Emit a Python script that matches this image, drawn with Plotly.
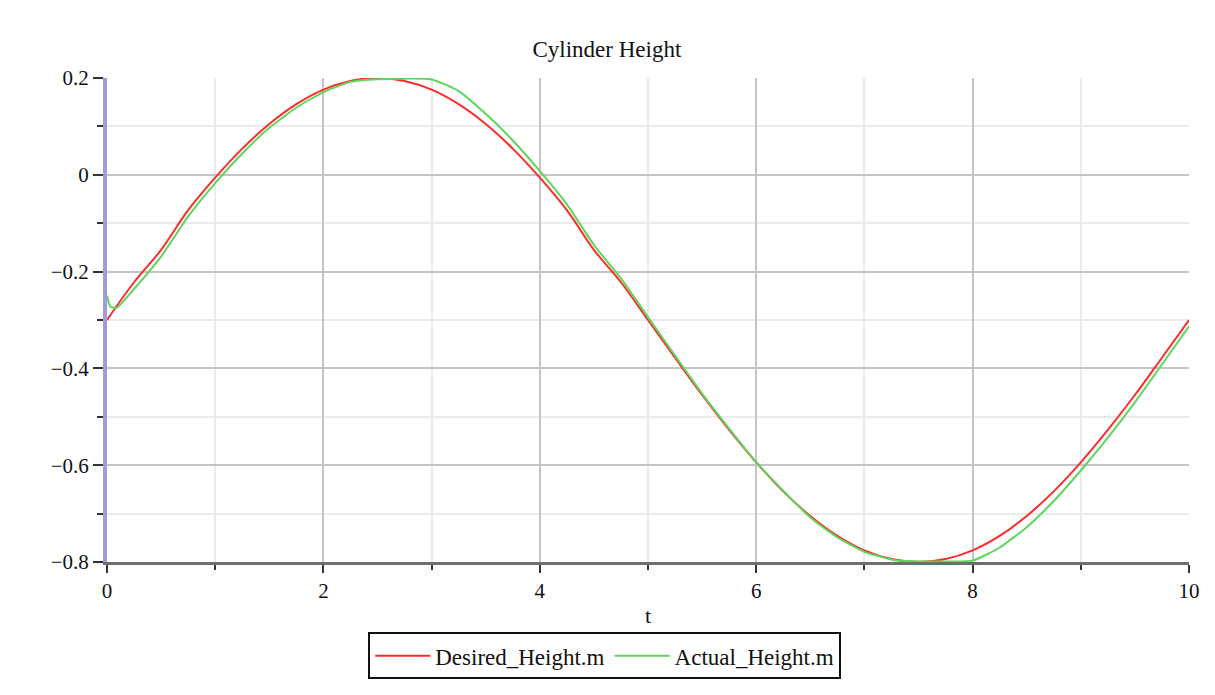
import plotly.graph_objects as go

# Desired height sampled every 0.25 s
t_desired = [i * 0.25 for i in range(41)]
desired = [-0.300, -0.222, -0.155, -0.073, -0.006, 0.054, 0.105, 0.146, 0.176, 0.194,
           0.200, 0.194, 0.176, 0.146, 0.105, 0.054, -0.006, -0.073, -0.155, -0.222,
           -0.300, -0.378, -0.455, -0.527, -0.594, -0.654, -0.705, -0.746, -0.776, -0.794,
           -0.800, -0.794, -0.776, -0.746, -0.705, -0.654, -0.594, -0.527, -0.455, -0.378,
           -0.300]

# Actual height
t_actual = [0.0, 0.03, 0.09, 0.25, 0.5, 0.75, 1.0, 1.25, 1.5, 1.75, 2.0, 2.25, 2.45,
            3.0, 3.25, 3.5, 3.75, 4.0, 4.25, 4.5, 4.75, 5.0, 5.5, 6.0, 6.5, 6.75, 7.0,
            7.25, 7.3, 8.0, 8.25, 8.5, 8.75, 9.0, 9.25, 9.5, 9.75, 10.0]
actual = [-0.250, -0.272, -0.275, -0.236, -0.169, -0.086, -0.017, 0.044, 0.097, 0.139,
          0.171, 0.192, 0.197, 0.197, 0.173, 0.126, 0.071, 0.008, -0.061, -0.145, -0.214,
          -0.294, -0.452, -0.594, -0.708, -0.749, -0.779, -0.795, -0.797, -0.797, -0.770,
          -0.728, -0.674, -0.611, -0.543, -0.470, -0.392, -0.313]

x_ticks = [0, 2, 4, 6, 8, 10]
y_ticks = [-0.8, -0.6, -0.4, -0.2, 0, 0.2]
y_tick_text = ["\u22120.8", "\u22120.6", "\u22120.4", "\u22120.2", "0", "0.2"]

FONT = "Liberation Serif"
TXT = "#111111"

fig = go.Figure()
fig.add_trace(go.Scatter(x=t_desired, y=desired, mode="lines", name="Desired_Height.m",
                         line=dict(color="#ff2b2b", width=2, shape="spline", smoothing=1.0)))
fig.add_trace(go.Scatter(x=t_actual, y=actual, mode="lines", name="Actual_Height.m",
                         line=dict(color="#5cd65c", width=2, shape="spline", smoothing=0.5)))

fig.update_layout(
    width=1215, height=695,
    paper_bgcolor="white", plot_bgcolor="white",
    margin=dict(l=99, r=34, t=70, b=141),
    font=dict(family=FONT, size=21, color=TXT),
    title=dict(text="Cylinder Height", x=0.462, xanchor="center", xref="paper",
               y=0.93, yanchor="bottom", font=dict(family=FONT, size=23, color=TXT)),
    showlegend=True,
    legend=dict(orientation="h", x=0.460, xanchor="center", xref="paper",
                y=-0.145, yanchor="top", yref="paper",
                bordercolor=TXT, borderwidth=2, bgcolor="white",
                font=dict(family=FONT, size=23, color=TXT),
                itemwidth=55),
)

fig.update_xaxes(
    range=[0, 10], tickvals=x_ticks, ticktext=[str(v) for v in x_ticks],
    showgrid=True, gridcolor="#c4c4c4", gridwidth=2,
    ticks="outside", ticklen=8, tickwidth=2, tickcolor="#333333",
    minor=dict(dtick=1, showgrid=True, gridcolor="#ebebeb", gridwidth=2,
               ticks="outside", ticklen=5, tickwidth=2, tickcolor="#333333"),
    showline=True, linecolor="#6e6e6e", linewidth=3,
    zeroline=False,
    title=dict(text="t", font=dict(family=FONT, size=22, color=TXT), standoff=6),
    tickfont=dict(family=FONT, size=21, color=TXT),
)
fig.update_yaxes(
    range=[-0.8, 0.2], tickvals=y_ticks, ticktext=y_tick_text,
    showgrid=True, gridcolor="#c4c4c4", gridwidth=2,
    ticks="outside", ticklen=10, tickwidth=2, tickcolor="#333333",
    minor=dict(dtick=0.1, showgrid=True, gridcolor="#ebebeb", gridwidth=2,
               ticks="outside", ticklen=6, tickwidth=2, tickcolor="#333333"),
    showline=True, linecolor="#9d9dda", linewidth=4,
    zeroline=False,
    tickfont=dict(family=FONT, size=21, color=TXT),
)

fig.write_html("out.html")
